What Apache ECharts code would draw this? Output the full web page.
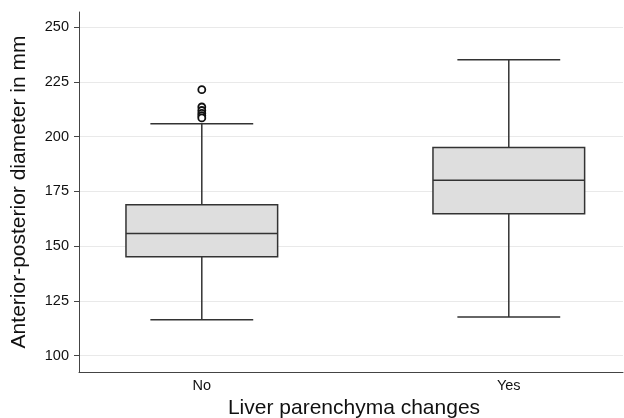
<!DOCTYPE html>
<html>
<head>
<meta charset="utf-8">
<script src="https://cdn.jsdelivr.net/npm/echarts@6/dist/echarts.min.js"></script>
<style>
  html, body { margin: 0; padding: 0; background: #fff; }
  #main { width: 624px; height: 418px; }
</style>
</head>
<body>
<div id="main"></div>
<script>
// groups on the x axis (placed at x = 1, 2)
var groups = ['No', 'Yes'];
var groupPos = [1, 2];
// box stats: [min whisker, Q1, median, Q3, max whisker]
var statsNo = [116.4, 145.2, 155.8, 168.9, 205.9];
var statsYes = [117.6, 164.8, 180.1, 195.1, 235.2];
// outliers of the "No" group
var outliersNo = [221.5, 213.6, 212, 210.7, 209.6, 208.6];
var yTicks = [100, 125, 150, 175, 200, 225, 250];

var myChart = echarts.init(document.getElementById('main'));

var boxData = [
  [groupPos[0]].concat(statsNo),
  [groupPos[1]].concat(statsYes)
];
var outlierData = [];
for (var i = 0; i < outliersNo.length; i++) {
  outlierData.push([groupPos[0], outliersNo[i]]);
}

var lineStyle = { stroke: '#333', lineWidth: 1.5 };

function renderBox(params, api) {
  var x = api.value(0);
  var lo = api.coord([x, api.value(1)]);
  var q1 = api.coord([x, api.value(2)]);
  var md = api.coord([x, api.value(3)]);
  var q3 = api.coord([x, api.value(4)]);
  var hi = api.coord([x, api.value(5)]);
  var halfBox = api.size([0.494, 0])[0] / 2;
  var halfCap = api.size([0.335, 0])[0] / 2;
  var cx = lo[0];
  return {
    type: 'group',
    children: [
      { type: 'line', shape: { x1: cx, y1: hi[1], x2: cx, y2: q3[1] }, style: lineStyle },
      { type: 'line', shape: { x1: cx, y1: q1[1], x2: cx, y2: lo[1] }, style: lineStyle },
      { type: 'line', shape: { x1: cx - halfCap, y1: hi[1], x2: cx + halfCap, y2: hi[1] }, style: lineStyle },
      { type: 'line', shape: { x1: cx - halfCap, y1: lo[1], x2: cx + halfCap, y2: lo[1] }, style: lineStyle },
      { type: 'rect', shape: { x: cx - halfBox, y: q3[1], width: halfBox * 2, height: q1[1] - q3[1] },
        style: { fill: '#dedede', stroke: '#333', lineWidth: 1.5 } },
      { type: 'line', shape: { x1: cx - halfBox, y1: md[1], x2: cx + halfBox, y2: md[1] }, style: lineStyle }
    ]
  };
}

var option = {
  animation: false,
  textStyle: { fontFamily: 'Liberation Sans' },
  grid: { left: 79, right: 1, top: 12, bottom: 46, containLabel: false, outerBoundsMode: 'none' },
  xAxis: {
    type: 'value',
    min: 0.6,
    max: 2.372,
    name: 'Liver parenchyma changes',
    nameLocation: 'middle',
    nameGap: 26,
    nameTextStyle: { fontSize: 21, color: '#111', padding: [0, 0, 0, 6] },
    axisLine: { show: true, lineStyle: { color: '#444', width: 1 } },
    axisTick: { show: false },
    splitLine: { show: false },
    axisLabel: {
      customValues: groupPos,
      fontSize: 14.5,
      color: '#111',
      margin: 6,
      formatter: function (v) { return groups[groupPos.indexOf(v)]; }
    }
  },
  yAxis: {
    type: 'value',
    min: 92.5,
    max: 257,
    name: 'Anterior-posterior diameter in mm',
    nameLocation: 'middle',
    nameGap: 49,
    nameTextStyle: { fontSize: 21, color: '#111' },
    axisLine: { show: true, lineStyle: { color: '#444', width: 1 } },
    axisTick: { show: true, length: 5, customValues: yTicks, lineStyle: { color: '#444' } },
    axisLabel: { customValues: yTicks, fontSize: 14.5, color: '#111', margin: 10 },
    splitLine: { show: true, lineStyle: { color: '#e9e9e9', width: 1 } }
  },
  series: [
    {
      type: 'custom',
      renderItem: renderBox,
      data: boxData,
      encode: { x: 0, y: [1, 2, 3, 4, 5] },
      z: 2
    },
    {
      type: 'scatter',
      data: outlierData,
      symbol: 'circle',
      symbolSize: 7,
      itemStyle: { color: '#fff', borderColor: '#111', borderWidth: 1.8, opacity: 1 },
      z: 3
    }
  ]
};

myChart.setOption(option);
</script>
</body>
</html>
